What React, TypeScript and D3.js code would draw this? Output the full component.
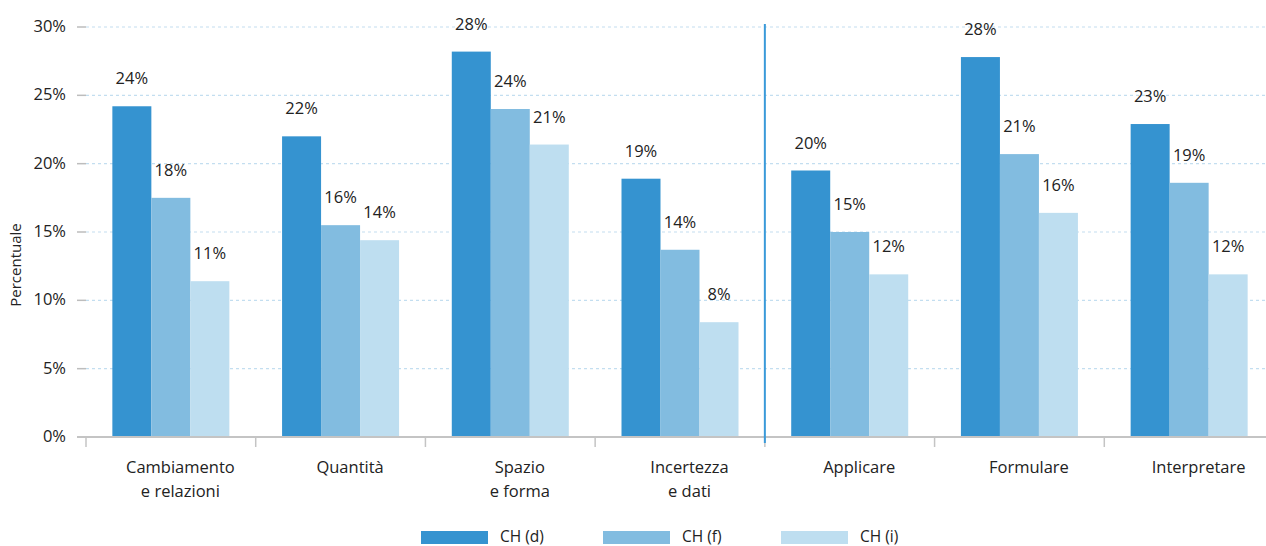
import React from "react";
import * as d3 from "d3";

const categories = [
  ["Cambiamento", "e relazioni"],
  ["Quantità"],
  ["Spazio", "e forma"],
  ["Incertezza", "e dati"],
  ["Applicare"],
  ["Formulare"],
  ["Interpretare"],
];
const series = ["CH (d)", "CH (f)", "CH (i)"];
const valuesD = [24.2, 22.0, 28.2, 18.9, 19.5, 27.8, 22.9];
const valuesF = [17.5, 15.5, 24.0, 13.7, 15.0, 20.7, 18.6];
const valuesI = [11.4, 14.4, 21.4, 8.4, 11.9, 16.4, 11.9];
const labelsD = ["24%", "22%", "28%", "19%", "20%", "28%", "23%"];
const labelsF = ["18%", "16%", "24%", "14%", "15%", "21%", "19%"];
const labelsI = ["11%", "14%", "21%", "8%", "12%", "16%", "12%"];
const yTicks = [0, 5, 10, 15, 20, 25, 30];
const colors = ["#3593d0", "#82bce0", "#bedef0"];

export default function App() {
  const W = 1266, H = 546;
  const font = "'Open Sans', 'Noto Sans', sans-serif";
  const keys = categories.map((c) => c.join(" "));
  const x = d3.scaleBand<string>().domain(keys).range([86, 1274]).paddingInner(0).paddingOuter(0);
  const bw = x.bandwidth();
  const groupW = 117;
  const xi = d3.scaleBand<string>().domain(series).range([(bw - groupW) / 2, (bw + groupW) / 2]);
  const y = d3.scaleLinear().domain([0, 30]).range([437, 27]);
  const vals = [valuesD, valuesF, valuesI];
  const labs = [labelsD, labelsF, labelsI];
  const sepX = x(keys[4])!;
  const boundaries = keys.map((k) => x(k)!);

  return (
    <div style={{ position: "fixed", left: 0, top: 0, width: W, height: H, background: "#fff" }}>
      <svg width={W} height={H} style={{ display: "block", fontFamily: font }}>
        {yTicks.map((t) => (
          <g key={t}>
            {t > 0 && (
              <line x1={86} x2={W} y1={y(t)} y2={y(t)} stroke="#c3def0" strokeWidth={1.2} strokeDasharray="3,3" />
            )}
            <line x1={77} x2={86} y1={y(t)} y2={y(t)} stroke="#bdbdbd" strokeWidth={1.5} />
            <text x={66} y={y(t) + 5} textAnchor="end" fontSize={16.5} fill="#222">
              {t}%
            </text>
          </g>
        ))}
        <text transform={`translate(21,265) rotate(-90)`} textAnchor="middle" fontSize={15} fill="#222">
          Percentuale
        </text>
        {keys.map((k, ci) =>
          series.map((s, si) => {
            const v = vals[si][ci];
            const bx = x(k)! + xi(s)!;
            return (
              <g key={k + s}>
                <rect x={bx} y={y(v)} width={xi.bandwidth()} height={y(0) - y(v)} fill={colors[si]} />
                <text x={bx + xi.bandwidth() / 2} y={y(v) - 22} textAnchor="middle" fontSize={16.5} fill="#222">
                  {labs[si][ci]}
                </text>
              </g>
            );
          })
        )}
        <line x1={77} x2={W} y1={437} y2={437} stroke="#c4c4c4" strokeWidth={2} />
        {boundaries.map((b, i) => (
          <line key={i} x1={b} x2={b} y1={437} y2={447} stroke="#c4c4c4" strokeWidth={1.5} />
        ))}
        <line x1={sepX} x2={sepX} y1={24} y2={443} stroke="#3a9ad9" strokeWidth={2} />
        {categories.map((lines, ci) => (
          <text key={ci} x={x(keys[ci])! + bw / 2 + 9.5} textAnchor="middle" fontSize={16.5} fill="#222">
            {lines.map((l, li) => (
              <tspan key={li} x={x(keys[ci])! + bw / 2 + 9.5} y={473 + li * 24}>
                {l}
              </tspan>
            ))}
          </text>
        ))}
        {series.map((s, si) => {
          const lx = [421, 603, 781][si];
          return (
            <g key={s}>
              <rect x={lx} y={531} width={67} height={13} fill={colors[si]} />
              <text x={lx + 79} y={541.5} fontSize={15.5} fill="#222">
                {s}
              </text>
            </g>
          );
        })}
      </svg>
    </div>
  );
}
